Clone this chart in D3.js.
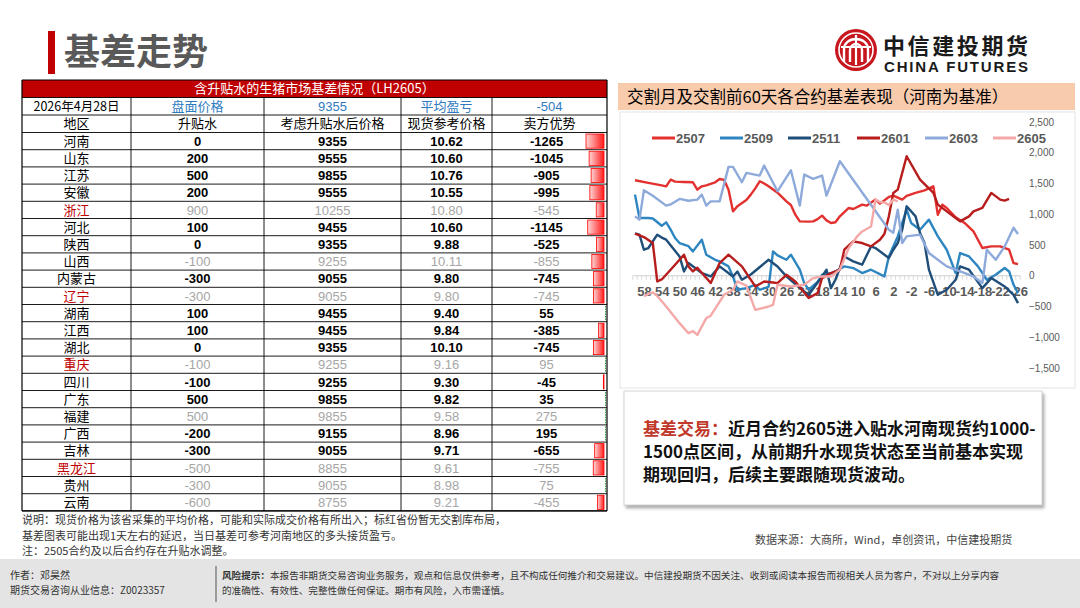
<!DOCTYPE html>
<html><head><meta charset="utf-8">
<script src="https://cdn.jsdelivr.net/npm/d3@7"></script>
<style>
body{margin:0;background:#fff;}
svg{display:block;font-family:"Noto Sans CJK SC","Liberation Sans",sans-serif;}
</style></head><body>
<svg id="c" width="1080" height="608"></svg>
<script>
// ---------------- table data ----------------
const tableTitle = "含升贴水的生猪市场基差情况（LH2605）";
const tableDate = "2026年4月28日";
const futuresPrice = 9355;
const avgPnl = -504;
const colHeaders = ["地区","升贴水","考虑升贴水后价格","现货参考价格","卖方优势"];
const regions   = ["河南","山东","江苏","安徽","浙江","河北","陕西","山西","内蒙古","辽宁","湖南","江西","湖北","重庆","四川","广东","福建","广西","吉林","黑龙江","贵州","云南"];
const premium   = [0,200,500,200,900,100,0,-100,-300,-300,100,100,0,-100,-100,500,500,-200,-300,-500,-300,-600];
const adjPrice  = [9355,9555,9855,9555,10255,9455,9355,9255,9055,9055,9455,9455,9355,9255,9255,9855,9855,9155,9055,8855,9055,8755];
const spotPrice = [10.62,10.60,10.76,10.55,10.80,10.60,9.88,10.11,9.80,9.80,9.40,9.84,10.10,9.16,9.30,9.82,9.58,8.96,9.71,9.61,8.98,9.21];
const sellerAdv = [-1265,-1045,-905,-995,-545,-1145,-525,-855,-745,-745,55,-385,-745,95,-45,35,275,195,-655,-755,75,-455];
// row style: 0 normal, 1 gray values, 2 red name + gray values
const rowStyle  = [0,0,0,0,2,0,0,1,0,2,0,0,0,2,0,0,1,0,0,2,1,1];

// ---------------- chart data ----------------
const chartTitle = "交割月及交割前60天各合约基差表现（河南为基准）";
const days = [60,59,58,57,56,55,54,53,52,51,50,49,48,47,46,45,44,43,42,41,40,39,38,37,36,35,34,33,32,31,30,29,28,27,26,25,24,23,22,21,20,19,18,17,16,15,14,13,12,11,10,9,8,7,6,5,4,3,2,1,0,-1,-2,-3,-4,-5,-6,-7,-8,-9,-10,-11,-12,-13,-14,-15,-16,-17,-18,-19,-20,-21,-22,-23,-24,-25,-26];
const xTickLabels = [58,54,50,46,42,38,34,30,26,22,18,14,10,6,2,-2,-6,-10,-14,-18,-22,-26];
const yTicks = [-1500,-1000,-500,0,500,1000,1500,2000,2500];
const seriesNames = ["2507","2509","2511","2601","2603","2605"];
const s2507 = [[60,1552],[57,1510],[54,1470],[53,1454],[52,1563],[51,1530],[49,1525],[47,1520],[46,1400],[45,1454],[44,1470],[42,1520],[41,1574],[40,1560],[39,1400],[38,1047],[37,1129],[35,1230],[34,1319],[33,1420],[32,1536],[31,1500],[30,1454],[28,1350],[26,1210],[25,1150],[24,993],[23,884],[21,880],[20,884],[19,920],[18,977],[17,900],[16,858],[15,870],[14,966],[12,1102],[11,1086],[9,1156],[8,1140],[6,1238],[5,1173],[3,1281],[2,1303],[0,1238],[-1,1300],[-3,1347],[-5,1389],[-7,1454],[-8,990],[-9,1156],[-10,1102],[-12,950],[-14,858],[-16,721],[-17,586],[-18,451],[-20,477],[-22,477],[-24,423],[-25,206],[-26,190]];
const s2509 = [[60,1319],[59,940],[57,939],[56,930],[54,814],[53,868],[52,750],[51,614],[50,532],[48,480],[47,396],[45,586],[44,342],[42,260],[41,233],[39,152],[38,-11],[37,-228],[35,-201],[33,-150],[32,-228],[30,-180],[29,396],[28,330],[26,260],[25,342],[23,100],[22,-119],[21,-228],[19,-100],[18,16],[16,40],[15,70],[13,152],[11,125],[9,44],[7,98],[4,-11],[3,314],[1,640],[-1,1075],[-2,858],[-4,749],[-6,912],[-8,640],[-10,423],[-12,44],[-13,369],[-15,314],[-17,152],[-19,-65],[-21,16],[-23,125],[-24,70],[-25,-147],[-26,-282]];
const s2511 = [[60,690],[59,668],[58,423],[57,451],[55,668],[54,620],[53,586],[50,314],[49,70],[48,207],[45,44],[43,-11],[41,152],[38,-11],[37,70],[36,-65],[34,20],[30,260],[28,150],[26,-11],[23,-201],[21,-310],[18,-11],[17,98],[16,-201],[15,-65],[13,314],[11,233],[9,180],[7,477],[6,451],[3,288],[2,423],[1,532],[0,749],[-1,1129],[-3,966],[-4,695],[-5,532],[-6,98],[-8,-310],[-10,-228],[-12,-65],[-13,152],[-15,98],[-18,-201],[-20,-38],[-23,-174],[-25,-310],[-26,-445]];
const s2601 = [[60,684],[58,630],[56,532],[55,-93],[54,-60],[52,98],[49,342],[48,152],[47,70],[46,130],[43,-119],[41,207],[39,342],[36,152],[33,-174],[31,-93],[29,-110],[28,-119],[26,16],[24,-93],[21,-363],[19,-282],[18,-38],[16,44],[14,98],[13,423],[11,559],[9,532],[7,477],[5,586],[4,680],[3,966],[2,1347],[1,1400],[-1,1943],[-4,1563],[-7,1347],[-8,1156],[-10,1047],[-12,940],[-13,884],[-15,966],[-16,1047],[-18,1102],[-20,1347],[-22,1238],[-23,1221],[-24,1249]];
const s2603 = [[60,966],[59,912],[58,1389],[56,1300],[53,1140],[52,1160],[50,1249],[48,1220],[46,1238],[45,1319],[44,1140],[43,1210],[41,1210],[39,1770],[38,1770],[36,1520],[35,1672],[32,1629],[31,1792],[28,1373],[25,1715],[23,1140],[22,1645],[20,1575],[18,1629],[17,1303],[14,1862],[3,749],[2,700],[1,1075],[0,532],[-1,640],[-4,668],[-6,369],[-8,260],[-10,152],[-13,70],[-16,-11],[-18,-119],[-19,423],[-21,260],[-23,477],[-25,780],[-26,680]];
const s2605 = [[58,-330],[57,-300],[56,-270],[55,-330],[53,-500],[50,-771],[48,-934],[47,-900],[46,-961],[44,-690],[43,-650],[40,-310],[38,-228],[37,-93],[35,-160],[33,-554],[30,-500],[29,-472],[28,-147],[25,-174],[22,-147],[20,-38],[18,-11],[16,-11],[14,100],[12,450],[10,650],[9,720],[8,760],[7,800],[6,1238],[5,1200],[4,1190],[3,1150],[2,1238],[1,1210]];
const seriesData = [s2507,s2509,s2511,s2601,s2603,s2605];
const seriesColors = ["#e2312f","#2e86c1","#1f4e79","#b81d1d","#8eaadb","#f4a9a8"];

// ---------------- texts ----------------
const noteLines = ["说明：现货价格为该省采集的平均价格，可能和实际成交价格有所出入；标红省份暂无交割库布局，",
  "基差图表可能出现1天左右的延迟，当日基差可参考河南地区的多头接货盈亏。",
  "注：2505合约及以后合约存在升贴水调整。"];
const sourceText = "数据来源：大商所，Wind，卓创资讯，中信建投期货";
const boxLead = "基差交易：";
const boxLines = ["近月合约2605进入贴水河南现货约1000-","1500点区间，从前期升水现货状态至当前基本实现","期现回归，后续主要跟随现货波动。"];
const authorLines = ["作者：邓昊然","期货交易咨询从业信息：Z0023357"];
const riskLead = "风险提示：";
const riskLines = ["本报告非期货交易咨询业务服务，观点和信息仅供参考，且不构成任何推介和交易建议。中信建投期货不因关注、收到或阅读本报告而视相关人员为客户，不对以上分享内容",
  "的准确性、有效性、完整性做任何保证。期市有风险，入市需谨慎。"];

const svg = d3.select("#c");
const defs = svg.append("defs");

// ---------------- header ----------------
svg.append("rect").attr("x",48).attr("y",31).attr("width",7).attr("height",43).attr("fill","#c00000");
svg.append("text").attr("x",64).attr("y",65).text("基差走势")
  .attr("font-size",36).attr("font-weight",700).attr("fill","#595959");

// logo
const lg = svg.append("g").attr("transform","translate(856,50)");
lg.append("circle").attr("r",21).attr("fill","#c8161e");
lg.append("circle").attr("r",17).attr("fill","none").attr("stroke","#fff").attr("stroke-width",1.6);
lg.append("path").attr("d","M-12,12 V-1 A12,10 0 0 1 12,-1 V12").attr("fill","none").attr("stroke","#fff").attr("stroke-width",2.4);
lg.append("path").attr("d","M-6,12 V0 A6,6 0 0 1 6,0 V12").attr("fill","none").attr("stroke","#fff").attr("stroke-width",2.4);
lg.append("path").attr("d","M0,-15 V15 M-15,-3 H15").attr("fill","none").attr("stroke","#fff").attr("stroke-width",2.2);
svg.append("text").attr("x",883).attr("y",54).text("中信建投期货")
  .attr("font-size",22).attr("font-weight",700).attr("fill","#1a1a1a").attr("textLength",145);
svg.append("text").attr("x",884).attr("y",72).text("CHINA FUTURES")
  .attr("font-family","Liberation Sans, Arial, sans-serif")
  .attr("font-size",15).attr("font-weight",700).attr("fill","#1a1a1a").attr("textLength",144);

// ---------------- table ----------------
const colX = [22,131,264,401,492,607];
const colC = colX.slice(0,5).map((v,i)=>(v+colX[i+1])/2);
const rowH = 17.2;
const titleTop = 80, dateTop = 97.5, headTop = 115, dataTop = 132.5;
const tableBottom = dataTop + rowH*regions.length;
const tg = svg.append("g");
tg.append("rect").attr("x",colX[0]).attr("y",titleTop).attr("width",colX[5]-colX[0]).attr("height",dateTop-titleTop).attr("fill","#c00000");
tg.append("text").attr("x",(colX[0]+colX[5])/2).attr("y",(titleTop+dateTop)/2).attr("dy","0.35em")
  .attr("text-anchor","middle").attr("font-size",13).attr("fill","#fff").text(tableTitle);
const hLines = [dateTop, headTop, dataTop].concat(regions.map((r,i)=>dataTop+rowH*(i+1)));
tg.selectAll(".hl").data(hLines).join("line").attr("x1",colX[0]).attr("x2",colX[5])
  .attr("y1",d=>d).attr("y2",d=>d).attr("stroke","#000").attr("stroke-width",0.9);
tg.selectAll(".vl").data(colX).join("line").attr("x1",d=>d).attr("x2",d=>d)
  .attr("y1",(d,i)=>(i===0||i===5)?titleTop:dateTop).attr("y2",tableBottom).attr("stroke","#000").attr("stroke-width",(d,i)=>(i===0||i===5)?1.2:0.9);
tg.append("line").attr("x1",colX[0]).attr("x2",colX[5]).attr("y1",titleTop).attr("y2",titleTop).attr("stroke","#000");
tg.append("line").attr("x1",colX[0]).attr("x2",colX[5]).attr("y1",tableBottom).attr("y2",tableBottom).attr("stroke","#000").attr("stroke-width",1.2);

function cell(x,y,txt,opt){
  const t = tg.append("text").attr("x",x).attr("y",y).attr("dy","0.36em").attr("text-anchor","middle")
    .attr("font-size",opt.size||13).attr("fill",opt.fill||"#000").text(txt);
  if(opt.num) t.attr("font-family","Liberation Sans, Arial, sans-serif");
  t.attr("font-weight",opt.bold?700:400);
  return t;
}
const blue = "#2e7bbf";
const yDate = (dateTop+headTop)/2;
cell(colC[0],yDate,tableDate,{bold:false,size:12.5});
cell(colC[1],yDate,"盘面价格",{fill:blue});
cell(colC[2],yDate,String(futuresPrice),{fill:blue,num:true});
cell(colC[3],yDate,"平均盈亏",{fill:blue});
cell(colC[4],yDate,String(avgPnl),{fill:blue,num:true});
colHeaders.forEach((h,i)=>cell(colC[i],(headTop+dataTop)/2,h,{size:13,bold:false}));

const barScale = d3.scaleLinear().domain([0,d3.max(sellerAdv,v=>Math.abs(v))]).range([0,18]);
const grad = defs.append("linearGradient").attr("id","rb").attr("x1","0").attr("x2","1").attr("y1","0").attr("y2","0");
grad.append("stop").attr("offset","0").attr("stop-color","#ffd6d6");
grad.append("stop").attr("offset","1").attr("stop-color","#ff1a1a");
const axisX = 604;
regions.forEach((r,i)=>{
  const yc = dataTop + rowH*i + rowH/2;
  const st = rowStyle[i];
  const vf = st===0 ? "#000" : "#a6a6a6";
  const bold = st===0;
  cell(colC[0],yc,r,{fill: st===2 ? "#c00000" : "#000"});
  cell(colC[1],yc,String(premium[i]),{fill:vf,bold:bold,num:true});
  cell(colC[2],yc,String(adjPrice[i]),{fill:vf,bold:bold,num:true});
  cell(colC[3],yc,spotPrice[i].toFixed(2),{fill:vf,bold:bold,num:true});
  cell(colC[4]-3,yc,String(sellerAdv[i]),{fill:vf,bold:bold,num:true});
  const top = dataTop + rowH*i + 1.5;
  if(sellerAdv[i] < 0){
    const w = barScale(-sellerAdv[i]);
    tg.append("rect").attr("x",axisX-w).attr("y",top).attr("width",w).attr("height",rowH-3)
      .attr("fill","url(#rb)").attr("stroke","#ff0000").attr("stroke-width",0.8);
  } else {
    tg.append("line").attr("x1",axisX+1.5).attr("x2",axisX+1.5).attr("y1",top).attr("y2",top+rowH-3)
      .attr("stroke","#3aa04a").attr("stroke-width",1).attr("stroke-dasharray","1.5,1");
  }
});

// notes
svg.selectAll(".note").data(noteLines).join("text").attr("x",22).attr("y",(d,i)=>524+i*15.5)
  .attr("font-size",11).attr("fill","#333").text(d=>d);
svg.append("text").attr("x",755).attr("y",544).attr("font-size",11).attr("fill","#444").text(sourceText);

// ---------------- chart panel ----------------
svg.append("rect").attr("x",618).attr("y",83).attr("width",457).attr("height",27).attr("fill","#f8cbad");
svg.append("text").attr("x",627).attr("y",97).attr("dy","0.36em").attr("font-size",16.5).attr("fill","#000").text(chartTitle);
svg.append("rect").attr("x",620).attr("y",112).attr("width",455).attr("height",276).attr("fill","none").attr("stroke","#e3e3e3");

const x = d3.scalePoint().domain(days).range([635,1018]);
const y = d3.scaleLinear().domain([-1500,2500]).range([368,122]);
const step = x.step();

const y0 = y(0);
svg.append("line").attr("x1",x(days[0])-step/2).attr("x2",x(days[days.length-1])+step/2)
  .attr("y1",y0).attr("y2",y0).attr("stroke","#d0d0d0").attr("stroke-width",1);
svg.selectAll(".mt").data(days.concat(["end"])).join("line")
  .attr("x1",(d,i)=>x(days[0])-step/2+i*step).attr("x2",(d,i)=>x(days[0])-step/2+i*step)
  .attr("y1",y0).attr("y2",y0+4).attr("stroke","#d0d0d0").attr("stroke-width",0.8);

const gx = svg.append("g").attr("transform",`translate(0,${y0})`)
  .call(d3.axisBottom(x).tickValues(xTickLabels).tickSize(0).tickPadding(11));
gx.select(".domain").remove();
gx.selectAll("text").attr("font-size",13).attr("font-weight",700).attr("fill","#595959")
  .attr("font-family","Liberation Sans, Arial, sans-serif");

const gy = svg.append("g").attr("transform","translate(1029,0)")
  .call(d3.axisRight(y).tickValues(yTicks).tickFormat(d3.format(",")).tickSize(0).tickPadding(0));
gy.select(".domain").remove();
gy.selectAll("text").attr("font-size",10).attr("fill","#595959").attr("font-family","Liberation Sans, Arial, sans-serif");

const line = d3.line().x(d=>x(d[0])).y(d=>y(d[1]));
seriesData.forEach((s,i)=>{
  svg.append("path").attr("d",line(s)).attr("fill","none").attr("stroke",seriesColors[i])
    .attr("stroke-width",2.4).attr("stroke-linejoin","round");
});

const legX = [652,720,788,857,925,993];
seriesNames.forEach((n,i)=>{
  svg.append("line").attr("x1",legX[i]).attr("x2",legX[i]+23).attr("y1",138).attr("y2",138)
    .attr("stroke",seriesColors[i]).attr("stroke-width",3);
  svg.append("text").attr("x",legX[i]+24).attr("y",138).attr("dy","0.36em").attr("font-size",13)
    .attr("font-weight",700).attr("fill","#595959").attr("font-family","Liberation Sans, Arial, sans-serif").text(n);
});

// ---------------- text box ----------------
const sh = defs.append("filter").attr("id","sh").attr("x","-5%").attr("y","-10%").attr("width","115%").attr("height","130%");
sh.append("feDropShadow").attr("dx",2).attr("dy",3).attr("stdDeviation",1.8).attr("flood-color","#777").attr("flood-opacity",0.6);
svg.append("rect").attr("x",624).attr("y",391).attr("width",418).attr("height",114).attr("fill","#fff")
  .attr("stroke","#c8c8c8").attr("stroke-width",0.8).attr("filter","url(#sh)");
const bt = svg.append("g").attr("font-size",17).attr("font-weight",700);
const t1 = bt.append("text").attr("x",643).attr("y",435);
t1.append("tspan").attr("fill","#c0392b").text(boxLead);
t1.append("tspan").attr("fill","#111").text(boxLines[0]);
bt.append("text").attr("x",643).attr("y",458).attr("fill","#111").text(boxLines[1]);
bt.append("text").attr("x",643).attr("y",481).attr("fill","#111").text(boxLines[2]);

// ---------------- footer ----------------
svg.append("rect").attr("x",0).attr("y",559).attr("width",1080).attr("height",49).attr("fill","#e4e4e4");
svg.selectAll(".au").data(authorLines).join("text").attr("x",10).attr("y",(d,i)=>579+i*15)
  .attr("font-size",10).attr("fill","#333").text(d=>d);
svg.append("line").attr("x1",216).attr("x2",216).attr("y1",566).attr("y2",602).attr("stroke","#555").attr("stroke-width",1);
const r1 = svg.append("text").attr("x",222).attr("y",579).attr("font-size",9.6).attr("fill","#333");
r1.append("tspan").attr("font-weight",700).text(riskLead);
r1.append("tspan").text(riskLines[0]);
svg.append("text").attr("x",222).attr("y",594).attr("font-size",9.6).attr("fill","#333").text(riskLines[1]);
</script>
</body></html>
